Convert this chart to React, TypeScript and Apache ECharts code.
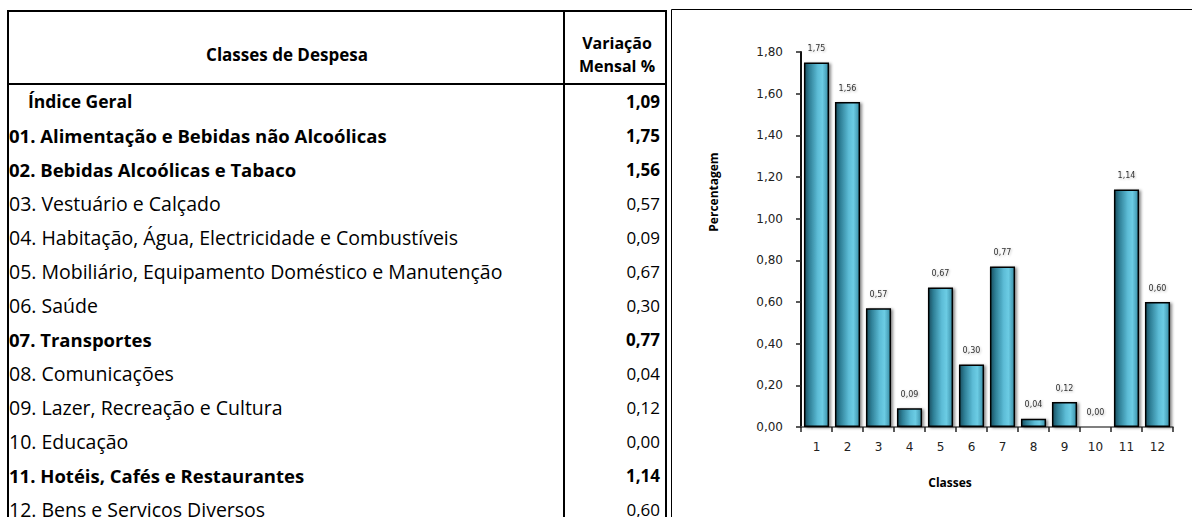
import React, { useEffect, useRef } from 'react';
import * as echarts from 'echarts';

const categories = ['1', '2', '3', '4', '5', '6', '7', '8', '9', '10', '11', '12'];
const values = [1.75, 1.56, 0.57, 0.09, 0.67, 0.3, 0.77, 0.04, 0.12, 0.0, 1.14, 0.6];

const tableLabels = [
  'Índice Geral',
  '01. Alimentação e Bebidas não Alcoólicas',
  '02. Bebidas Alcoólicas e Tabaco',
  '03. Vestuário e Calçado',
  '04. Habitação, Água, Electricidade e Combustíveis',
  '05. Mobiliário, Equipamento Doméstico e Manutenção',
  '06. Saúde',
  '07. Transportes',
  '08. Comunicações',
  '09. Lazer, Recreação e Cultura',
  '10. Educação',
  '11. Hotéis, Cafés e Restaurantes',
  '12. Bens e Serviços Diversos',
];
const tableValues = [1.09, 1.75, 1.56, 0.57, 0.09, 0.67, 0.3, 0.77, 0.04, 0.12, 0.0, 1.14, 0.6];
const tableBold = [true, true, true, false, false, false, false, true, false, false, false, true, false];

const headerLeft = 'Classes de Despesa';
const headerRight = ['Variação', 'Mensal %'];
const yAxisName = 'Percentagem';
const xAxisName = 'Classes';

const fmt = (v: number) => v.toFixed(2).replace('.', ',');

const TABLE_FONT = '"Open Sans", "Noto Sans", sans-serif';
const CHART_FONT = '"DejaVu Sans", Verdana, sans-serif';

export default function App() {
  const ref = useRef<HTMLDivElement>(null);
  useEffect(() => {
    if (!ref.current) return;
    const chart = echarts.init(ref.current, undefined, { renderer: 'svg' });

    const L = 8, T = 11, R = 666, SEP = 564, HB = 84, B = 520;
    const lineStyle = { stroke: '#000', lineWidth: 2 };
    const graphics: any[] = [
      { type: 'line', shape: { x1: L - 1, y1: T, x2: R + 1, y2: T }, style: lineStyle },
      { type: 'line', shape: { x1: L, y1: T, x2: L, y2: B }, style: lineStyle },
      { type: 'line', shape: { x1: R, y1: T, x2: R, y2: B }, style: lineStyle },
      { type: 'line', shape: { x1: SEP, y1: T, x2: SEP, y2: B }, style: lineStyle },
      { type: 'line', shape: { x1: L, y1: HB, x2: R, y2: HB }, style: lineStyle },
      { type: 'line', shape: { x1: 671.5, y1: 9.5, x2: 1195, y2: 9.5 }, style: { stroke: '#000', lineWidth: 1 } },
      { type: 'line', shape: { x1: 671.5, y1: 9.5, x2: 671.5, y2: B }, style: { stroke: '#000', lineWidth: 1 } },
      {
        type: 'text', x: (L + SEP) / 2 + 1, y: 54,
        style: { text: headerLeft, fill: '#000', fontFamily: TABLE_FONT, fontSize: 17, fontWeight: 'bold', align: 'center', verticalAlign: 'middle' },
      },
      {
        type: 'text', x: (SEP + R) / 2 + 2, y: 43,
        style: { text: headerRight[0], fill: '#000', fontFamily: TABLE_FONT, fontSize: 16, fontWeight: 'bold', align: 'center', verticalAlign: 'middle' },
      },
      {
        type: 'text', x: (SEP + R) / 2 + 2, y: 66,
        style: { text: headerRight[1], fill: '#000', fontFamily: TABLE_FONT, fontSize: 16, fontWeight: 'bold', align: 'center', verticalAlign: 'middle' },
      },
    ];
    tableLabels.forEach((lab, i) => {
      const y = 101 + i * 34;
      const bold = tableBold[i];
      graphics.push({
        type: 'text', x: i === 0 ? 28 : 9, y,
        style: { text: lab, fill: '#000', fontFamily: TABLE_FONT, fontSize: i === 0 ? 17.5 : bold ? 18.5 : 19.5, fontWeight: bold ? 'bold' : 'normal', align: 'left', verticalAlign: 'middle' },
      });
      graphics.push({
        type: 'text', x: 660, y,
        style: { text: fmt(tableValues[i]), fill: '#000', fontFamily: TABLE_FONT, fontSize: 17, fontWeight: bold ? 'bold' : 'normal', align: 'right', verticalAlign: 'middle' },
      });
    });
    graphics.push({
      type: 'text', x: 713, y: 192, rotation: Math.PI / 2,
      style: { text: yAxisName, fill: '#000', fontFamily: TABLE_FONT, fontSize: 12, fontWeight: 'bold', align: 'center', verticalAlign: 'middle' },
    });
    graphics.push({
      type: 'text', x: 950, y: 482,
      style: { text: xAxisName, fill: '#000', fontFamily: TABLE_FONT, fontSize: 12, fontWeight: 'bold', align: 'center', verticalAlign: 'middle' },
    });

    const barColor = new echarts.graphic.LinearGradient(0, 0, 1, 0, [
      { offset: 0, color: '#1b4f5f' },
      { offset: 0.2, color: '#2e7f96' },
      { offset: 0.55, color: '#5cbcd6' },
      { offset: 0.75, color: '#6ccce4' },
      { offset: 1, color: '#3a8fa8' },
    ]);

    chart.setOption({
      animation: false,
      backgroundColor: '#fff',
      grid: { left: 801, right: 19, top: 52, bottom: 90, containLabel: false },
      xAxis: {
        type: 'category',
        data: categories,
        axisLine: { lineStyle: { color: '#555', width: 1.5 } },
        axisTick: { show: true, length: 5, lineStyle: { color: '#222', width: 1.5 } },
        axisLabel: { color: '#222', fontFamily: CHART_FONT, fontSize: 12, margin: 14 },
      },
      yAxis: {
        type: 'value',
        min: 0,
        max: 1.8,
        interval: 0.2,
        splitLine: { show: false },
        axisLine: { show: true, lineStyle: { color: '#111', width: 2 } },
        axisTick: { show: true, length: 5, lineStyle: { color: '#222', width: 1.5 } },
        axisLabel: { color: '#222', fontFamily: CHART_FONT, fontSize: 12, margin: 18, formatter: (v: number) => fmt(v) },
      },
      series: [
        {
          type: 'bar',
          data: values,
          barCategoryGap: '19%',
          itemStyle: {
            color: barColor,
            borderColor: '#000',
            borderWidth: 1.5,
            shadowColor: 'rgba(0,0,0,0.45)',
            shadowBlur: 3,
            shadowOffsetX: 2,
            shadowOffsetY: 1,
          },
          label: {
            show: true,
            position: 'top',
            distance: 10,
            fontFamily: CHART_FONT,
            fontSize: 8,
            color: '#333',
            formatter: (p: any) => fmt(p.value),
            textShadowColor: 'rgba(0,0,0,0.25)',
            textShadowBlur: 2,
            textShadowOffsetX: 1,
            textShadowOffsetY: 1,
          },
        },
      ],
      graphic: graphics,
    });

    return () => chart.dispose();
  }, []);

  return <div ref={ref} style={{ position: 'fixed', left: 0, top: 0, width: 1192, height: 517, background: '#fff' }} />;
}
